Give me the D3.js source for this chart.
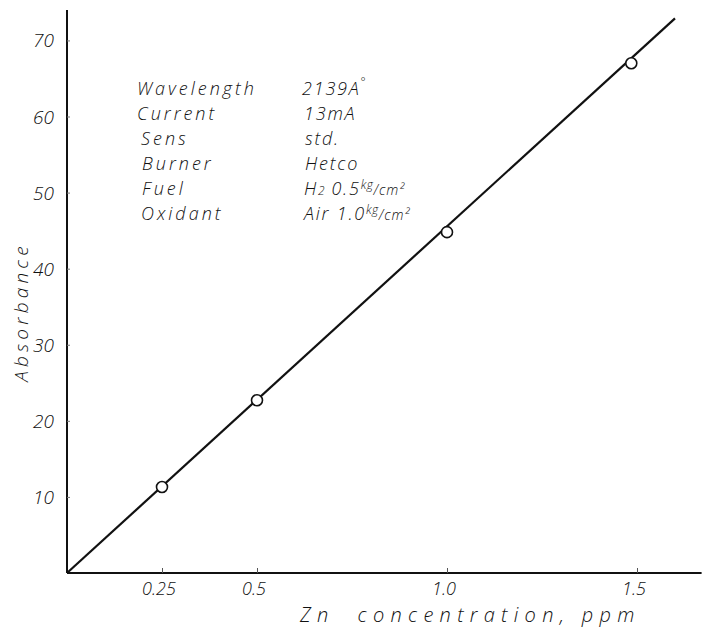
<!DOCTYPE html>
<html>
<head>
<meta charset="utf-8">
<script src="https://cdn.jsdelivr.net/npm/d3@7"></script>
<style>
  body { margin: 0; background: #fff; }
  text { font-family: "Open Sans", "DejaVu Sans", sans-serif; font-style: italic; font-weight: 300; fill: #111; }
</style>
</head>
<body>
<svg id="chart" width="702" height="627"></svg>
<script>
// measured points
var conc = [0.25, 0.5, 1.0, 1.485];
var absorb = [11.3, 22.7, 44.8, 67.0];
// fitted line ends
var lineConc = [0, 1.6];
var lineAbs = [0, 72.9];
var xTicks = [0.25, 0.5, 1.0, 1.5];
var xTickLabels = ["0.25", "0.5", "1.0", "1.5"];
var yTicks = [10, 20, 30, 40, 50, 60, 70];
var condNames = ["Wavelength", "Current", "Sens", "Burner", "Fuel", "Oxidant"];

var svg = d3.select("#chart"),
    x = d3.scaleLinear().domain([0, 1.67]).range([67, 701.6]),
    y = d3.scaleLinear().domain([0, 74]).range([573, 10]);

// axes
var yAxis = svg.append("g").attr("transform", "translate(" + x(0) + ",0)")
    .call(d3.axisRight(y).tickValues(yTicks).tickSize(3).tickFormat(""));
yAxis.select(".domain").attr("stroke", "#111").attr("stroke-width", 2).attr("d", "M0," + y(74) + "V" + y(0));
yAxis.selectAll(".tick line").attr("stroke", "#777");

var xAxis = svg.append("g").attr("transform", "translate(0," + y(0) + ")")
    .call(d3.axisTop(x).tickValues(xTicks).tickSize(5).tickFormat(""));
xAxis.select(".domain").attr("stroke", "#111").attr("stroke-width", 2).attr("d", "M" + x(0) + ",0H" + x(1.67));
xAxis.selectAll(".tick line").attr("stroke", "#555");

// tick labels
svg.selectAll(".ylab").data(yTicks).enter().append("text")
    .attr("x", 54).attr("y", function(d){ return y(d) + 7; })
    .attr("text-anchor", "end").attr("font-size", 19)
    .text(function(d){ return d; });

svg.selectAll(".xlab").data(xTicks).enter().append("text")
    .attr("x", function(d){ return x(d) - 3; }).attr("y", 595)
    .attr("text-anchor", "middle").attr("font-size", 18)
    .text(function(d, i){ return xTickLabels[i]; });

// axis titles
svg.append("text")
    .attr("transform", "translate(28,312) rotate(-90)")
    .attr("text-anchor", "middle").attr("font-size", 19)
    .attr("letter-spacing", 4.2)
    .text("Absorbance");

svg.append("text")
    .attr("x", 300).attr("y", 622).attr("font-size", 20)
    .attr("letter-spacing", 6.3)
    .attr("xml:space", "preserve")
    .text("Zn  concentration, ppm");

// calibration line
var line = d3.line().x(function(d){ return x(d); }).y(function(d, i){ return y(lineAbs[i]); });
svg.append("path").datum(lineConc).attr("d", line)
    .attr("fill", "none").attr("stroke", "#111").attr("stroke-width", 2.2);

// points
svg.selectAll(".pt").data(conc).enter().append("circle")
    .attr("cx", function(d){ return x(d); })
    .attr("cy", function(d, i){ return y(absorb[i]); })
    .attr("r", 5.5).attr("fill", "#fff").attr("stroke", "#111").attr("stroke-width", 1.6);

// conditions block
var rows = [95, 120, 145, 170, 195, 220];
var nameX = [137, 137, 141, 142, 142, 141];
svg.selectAll(".cond").data(condNames).enter().append("text")
    .attr("x", function(d, i){ return nameX[i]; })
    .attr("y", function(d, i){ return rows[i]; })
    .attr("font-size", 18).attr("letter-spacing", 3)
    .text(function(d){ return d; });

function val(i, x0) {
  return svg.append("text").attr("x", x0).attr("y", rows[i])
    .attr("font-size", 18).attr("letter-spacing", 1.8);
}
var t;
t = val(0, 302); t.append("tspan").text("2139A"); t.append("tspan").attr("dy", -9).attr("font-size", 12).text("°");
val(1, 304).text("13mA");
val(2, 305).text("std.");
val(3, 305).text("Hetco");
t = val(4, 304);
t.append("tspan").text("H");
t.append("tspan").attr("font-size", 12).text("2 ");
t.append("tspan").text("0.5");
t.append("tspan").attr("dy", -6).attr("font-size", 12).attr("letter-spacing", 0.5).text("kg");
t.append("tspan").attr("dy", 6).attr("font-size", 14).attr("letter-spacing", 1).text("/cm²");
t = val(5, 304);
t.append("tspan").text("Air 1.0");
t.append("tspan").attr("dy", -6).attr("font-size", 12).attr("letter-spacing", 0.5).text("kg");
t.append("tspan").attr("dy", 6).attr("font-size", 14).attr("letter-spacing", 1).text("/cm²");
</script>
</body>
</html>
